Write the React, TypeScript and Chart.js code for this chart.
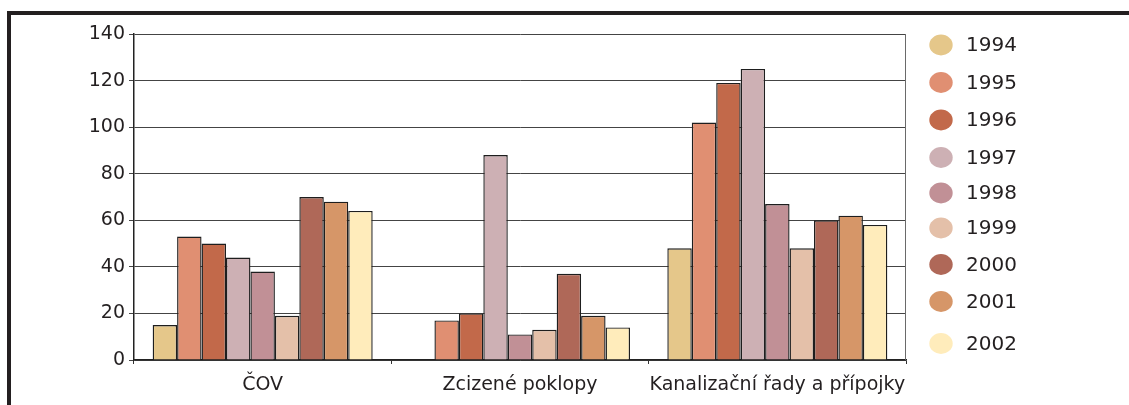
import React, { useEffect, useRef } from 'react';
import { Chart, registerables } from 'chart.js';

Chart.register(...registerables);

const categories = ['ČOV', 'Zcizené poklopy', 'Kanalizační řady a přípojky'];
const years = ['1994', '1995', '1996', '1997', '1998', '1999', '2000', '2001', '2002'];
const v1994 = [15, null, 48];
const v1995 = [53, 17, 102];
const v1996 = [50, 20, 119];
const v1997 = [44, 88, 125];
const v1998 = [38, 11, 67];
const v1999 = [19, 13, 48];
const v2000 = [70, 37, 60];
const v2001 = [68, 19, 62];
const v2002 = [64, 14, 58];
const seriesValues = [v1994, v1995, v1996, v1997, v1998, v1999, v2000, v2001, v2002];
const seriesColors = ['#E5C78A', '#E08F72', '#C2694A', '#CDB0B4', '#C19096', '#E4C0A9', '#AF6858', '#D69668', '#FFECBB'];
const yTicks = [0, 20, 40, 60, 80, 100, 120, 140];

const TEXT = '#231f20';
const legendRowsY = [45, 82.5, 120, 157.5, 193, 228, 264.5, 301.5, 343.5];

const framePlugin = {
  id: 'frame',
  beforeDraw(chart: any) {
    const ctx = chart.ctx;
    ctx.save();
    ctx.fillStyle = '#ffffff';
    ctx.fillRect(0, 0, chart.width, chart.height);
    ctx.fillStyle = TEXT;
    ctx.fillRect(7, 11, chart.width - 7, 4);
    ctx.fillRect(7, 11, 4, chart.height - 11);
    ctx.restore();
  },
  afterDraw(chart: any) {
    const ctx = chart.ctx;
    const a = chart.chartArea;
    ctx.save();
    ctx.strokeStyle = '#6a6a6a';
    ctx.lineWidth = 1;
    ctx.beginPath();
    ctx.moveTo(Math.round(a.right) - 0.5, a.top);
    ctx.lineTo(Math.round(a.right) - 0.5, a.bottom);
    ctx.stroke();
    // legend
    chart.data.datasets.forEach((ds: any, i: number) => {
      const y = legendRowsY[i];
      ctx.fillStyle = ds.backgroundColor;
      ctx.beginPath();
      ctx.ellipse(941, y, 11.7, 10.4, 0, 0, Math.PI * 2);
      ctx.fill();
      ctx.fillStyle = TEXT;
      ctx.font = '20px "DejaVu Sans"';
      ctx.textBaseline = 'middle';
      ctx.textAlign = 'left';
      ctx.fillText(ds.label, 966, y + 1);
    });
    ctx.restore();
  },
};

export default function App() {
  const ref = useRef<HTMLCanvasElement>(null);
  useEffect(() => {
    document.body.style.margin = '0';
    const chart = new Chart(ref.current as HTMLCanvasElement, {
      type: 'bar',
      data: {
        labels: categories,
        datasets: years.map((y, i) => ({
          label: y,
          data: seriesValues[i],
          backgroundColor: seriesColors[i],
          borderColor: '#1e1e1e',
          borderWidth: 1.4,
          borderSkipped: 'bottom',
          categoryPercentage: 0.855,
          barPercentage: 1,
        })),
      },
      options: {
        responsive: false,
        animation: false,
        devicePixelRatio: 1,
        layout: { padding: { left: 0, top: 34, right: 223, bottom: 0 } },
        plugins: { legend: { display: false }, tooltip: { enabled: false } },
        scales: {
          x: {
            afterFit: (s: any) => { s.height = 45; },
            grid: { drawOnChartArea: false, drawTicks: true, tickLength: 4, color: '#333' },
            border: { display: true, color: '#222', width: 1.5 },
            ticks: {
              color: TEXT,
              font: { family: 'DejaVu Sans', size: 19 },
              padding: 10,
              autoSkip: false,
              maxRotation: 0,
              minRotation: 0,
            },
          },
          y: {
            min: 0,
            max: 140,
            afterFit: (s: any) => { s.width = 134; },
            afterBuildTicks: (s: any) => { s.ticks = yTicks.map((v) => ({ value: v })); },
            grid: { color: '#444', lineWidth: 1, tickLength: 5 },
            border: { display: true, color: '#222', width: 1.5 },
            ticks: { color: TEXT, font: { family: 'DejaVu Sans', size: 19 }, padding: 4 },
          },
        },
      },
      plugins: [framePlugin],
    });
    return () => chart.destroy();
  }, []);
  return (
    <div style={{ position: 'fixed', left: 0, top: 0, width: 1129, height: 405 }}>
      <canvas ref={ref} width={1129} height={405} style={{ width: 1129, height: 405, display: 'block' }} />
    </div>
  );
}
